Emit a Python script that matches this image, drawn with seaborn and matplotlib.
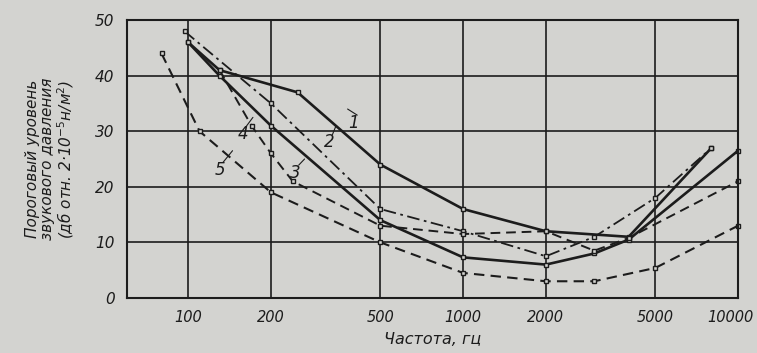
import matplotlib
matplotlib.use("Agg")
import matplotlib.pyplot as plt
import matplotlib.transforms as mtransforms
import seaborn as sns
import pandas as pd

# ---- data ----
f1 = [100, 130, 250, 500, 1000, 2000, 4000, 8000]
v1 = [46, 41, 37, 24, 16, 12, 11, 27]

f2 = [97, 200, 500, 1000, 2000, 3000, 5000, 8000]
v2 = [48, 35, 16, 12, 7.5, 11, 18, 27]

f3 = [100, 130, 200, 500, 1000, 2000, 3000, 4000, 10000]
v3 = [46, 40, 31, 14, 7.3, 6, 8, 10.5, 26.5]

f4 = [130, 170, 200, 240, 500, 1000, 2000, 3000, 4000, 10000]
v4 = [41, 31, 26, 21, 13, 11.5, 12, 8.5, 10.8, 21]

f5 = [80, 110, 200, 500, 1000, 2000, 3000, 5000, 10000]
v5 = [44, 30, 19, 10, 4.5, 3, 3, 5.4, 13]

curve_labels = ["1", "2", "3", "4", "5"]
xticks = [100, 200, 500, 1000, 2000, 5000, 10000]
yticks = [0, 10, 20, 30, 40, 50]

sns.set_style("white")
plt.rcParams["font.family"] = ["DejaVu Sans"]

bg = "#d3d3d0"
ink = "#1c1c1c"

fig = plt.figure(figsize=(7.57, 3.53), dpi=100, facecolor=bg)
ax = fig.add_axes([0.168, 0.156, 0.807, 0.787])
ax.set_facecolor(bg)

styles = [
    (f1, v1, "-", 1.9),
    (f2, v2, (0, (7, 2.5, 1.5, 2.5)), 1.3),
    (f3, v3, "-", 1.9),
    (f4, v4, (0, (5, 3)), 1.4),
    (f5, v5, (0, (5, 3)), 1.5),
]
for f, v, ls, lw in styles:
    df = pd.DataFrame({"f": f, "v": v})
    sns.lineplot(data=df, x="f", y="v", ax=ax, color=ink, linestyle=ls,
                 linewidth=lw, marker="s", markersize=3.2,
                 markerfacecolor=bg, markeredgecolor=ink, markeredgewidth=1.0,
                 clip_on=False)

ax.set_xscale("log")
ax.set_xlim(60, 10000)
ax.set_ylim(0, 50)
ax.set_xticks(xticks)
ax.set_xticklabels([str(t) for t in xticks])
ax.minorticks_off()
ax.set_yticks(yticks)
ax.set_yticklabels([str(t) for t in yticks])
ax.grid(True, color=ink, linewidth=1.2)
ax.set_axisbelow(True)
for s in ax.spines.values():
    s.set_color(ink)
    s.set_linewidth(1.5)
ax.tick_params(length=0, labelsize=11, colors=ink, pad=9)
ax.tick_params(axis="x", labelsize=10.5)
for lab in ax.get_xticklabels() + ax.get_yticklabels():
    lab.set_fontstyle("italic")
last = ax.get_xticklabels()[-1]
last.set_transform(last.get_transform() +
                   mtransforms.ScaledTranslation(-8 / 100, 0, fig.dpi_scale_trans))

ax.set_xlabel("Частота, гц", fontsize=11.5, style="italic", color=ink, labelpad=5)
ax.set_ylabel("Пороговый уровень\nзвукового давления\n(дб отн. 2·10$^{-5}$н/м$^2$)",
              fontsize=11, style="italic", color=ink, labelpad=14, linespacing=1.0)

# curve labels with short leader lines
label_pos = [(400, 31.5), (325, 28), (245, 22.5), (158, 29.5), (130, 23)]
leader_end = [(380, 34), (345, 31), (265, 25), (172, 32.5), (145, 26.5)]
for txt, (x, y), (x2, y2) in zip(curve_labels, label_pos, leader_end):
    ax.text(x, y, txt, fontsize=12, style="italic", color=ink, ha="center", va="center")
    ax.plot([x * 1.03, x2], [y + 1.4, y2], color=ink, linewidth=0.8)

fig.savefig("out.png", dpi=100, facecolor=bg)
